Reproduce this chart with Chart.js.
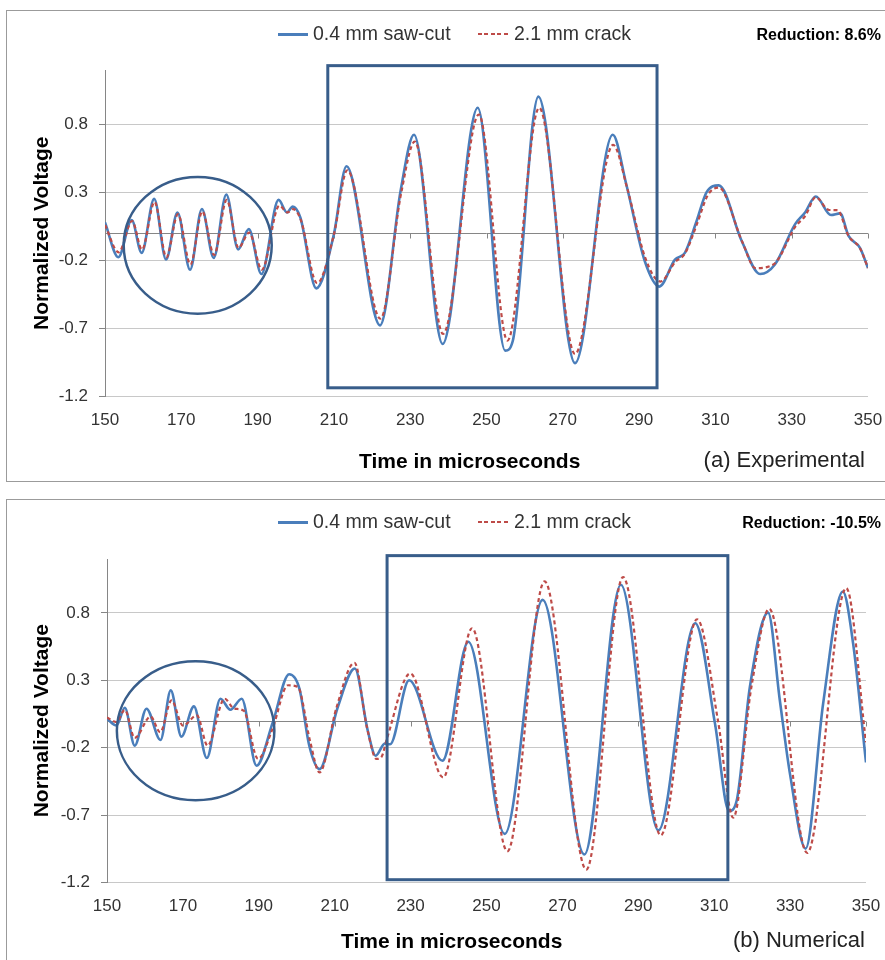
<!DOCTYPE html>
<html><head><meta charset="utf-8">
<script src="https://cdn.jsdelivr.net/npm/chart.js@4.4.1/dist/chart.umd.min.js"></script>
<style>
html,body{margin:0;padding:0;background:#fff;}
body{width:885px;height:960px;position:relative;overflow:hidden;font-family:'Liberation Sans',Arial,sans-serif;color:#262626;}
.panel{position:absolute;border:1px solid #9b9b9b;box-sizing:border-box;}
canvas{position:absolute;left:0;}
.t{position:absolute;white-space:nowrap;line-height:1;}
.sw{position:absolute;height:2.5px;}
.dash{height:2px;background:repeating-linear-gradient(to right,#BE4B48 0 4px,transparent 4px 6.5px);}
</style></head><body>
<div class="panel" style="left:6px;top:10px;width:900px;height:472px"></div>
<div class="panel" style="left:6px;top:499px;width:900px;height:480px"></div>
<canvas id="c1" width="885" height="490" style="top:0"></canvas>
<canvas id="c2" width="885" height="470" style="top:490px"></canvas>
<div id="overlay"></div>
<script>
// ---------- data ----------
const seriesNames = ['0.4 mm saw-cut', '2.1 mm crack'];
const xTickValues = [150, 170, 190, 210, 230, 250, 270, 290, 310, 330, 350];
const yTickValues = [-1.2, -0.7, -0.2, 0.3, 0.8];
const panelNotes = ['(a) Experimental', '(b) Numerical'];
const reductions = ['Reduction: 8.6%', 'Reduction: -10.5%'];
const xTitle = 'Time in microseconds';
const yTitle = 'Normalized Voltage';

// (a) Experimental
const expSawT = [150,153.5,157.0,159.6,162.9,166.0,169.0,172.3,175.4,178.5,181.8,184.9,187.7,191.0,195.5,197.7,199.2,201.2,205.4,210.0,213.3,222.1,227.5,231.0,238.5,247.7,254.9,256.9,263.6,273.2,283.1,286.6,291.5,295.3,299.4,302.0,305.1,307.7,310.9,316.9,321.7,325.6,330.9,333.5,336.3,340.3,342.7,344.9,347.9,350];
const expSawV = [0.08,-0.176,0.097,-0.144,0.253,-0.193,0.153,-0.268,0.178,-0.181,0.285,-0.119,0.030,-0.30,0.245,0.153,0.196,0.116,-0.405,-0.007,0.493,-0.677,0.315,0.724,-0.814,0.922,-0.863,-0.79,1.004,-0.955,0.724,0.364,-0.206,-0.392,-0.194,-0.144,0.092,0.302,0.352,-0.057,-0.30,-0.23,0.067,0.153,0.27,0.134,0.146,-0.02,-0.107,-0.256];
const expCrackT = [150,153.6,157.1,159.7,163.0,166.1,169.1,172.4,175.5,178.6,181.9,185.0,187.8,191.1,195.7,197.8,199.3,201.3,205.6,210.0,213.5,222.2,227.6,231.2,238.6,248.0,255.5,263.8,273.2,283.2,286.8,291.6,295.6,299.5,302.0,305.2,308.0,310.9,317.0,320.5,325.2,331.0,333.6,336.3,339.8,342.0,344.9,347.9,350];
const expCrackV = [0.06,-0.14,0.09,-0.12,0.23,-0.176,0.14,-0.23,0.16,-0.16,0.245,-0.107,0.005,-0.268,0.203,0.153,0.178,0.10,-0.367,-0.01,0.463,-0.628,0.29,0.674,-0.74,0.873,-0.789,0.922,-0.888,0.65,0.34,-0.18,-0.355,-0.21,-0.15,0.07,0.28,0.335,-0.06,-0.256,-0.23,0.05,0.13,0.265,0.171,0.17,-0.02,-0.11,-0.256];

// (b) Numerical
const numSawT = [150,152.5,154.7,157.3,160.4,164.1,166.8,169.6,172.9,176.3,179.9,182.5,185.5,189.4,193.7,198.0,200.7,203.3,206.0,210.8,215.3,218.7,220.8,223.2,224.6,229.6,238.4,245.2,254.8,264.8,275.8,285.4,295.3,305.0,310.2,313.9,315.9,319.4,324.2,327.3,330.0,334.1,338.7,343.9,346.6,350];
const numSawV = [0.014,-0.036,0.096,-0.185,0.089,-0.143,0.225,-0.118,0.106,-0.277,0.163,0.081,0.163,-0.334,-0.011,0.345,0.238,-0.185,-0.359,0.10,0.387,-0.073,-0.26,-0.17,-0.175,0.30,-0.297,0.586,-0.84,0.897,-0.993,1.009,-0.814,0.723,-0.02,-0.67,-0.596,0.25,0.802,0.15,-0.40,-0.949,0.126,0.959,0.574,-0.31];
const numCrackT = [150,152.5,154.7,157.3,161.5,164.0,167.0,170.0,173.7,176.5,181.0,183.5,186.0,189.8,193.5,197.7,200.3,203.5,206.0,210.5,215.2,218.5,221.0,222.3,223.8,229.9,238.6,246.2,255.5,265.3,276.3,286.0,295.9,305.5,311.0,315.0,319.8,324.5,334.5,344.8,350];
const numCrackV = [0.024,-0.01,0.08,-0.128,0.031,-0.086,0.151,-0.036,0.039,-0.185,0.163,0.09,0.075,-0.284,-0.07,0.263,0.25,-0.15,-0.384,0.10,0.43,-0.05,-0.284,-0.27,-0.13,0.35,-0.421,0.686,-0.969,1.034,-1.105,1.066,-0.851,0.753,0.0,-0.72,0.25,0.83,-0.981,0.984,-0.16];

// highlighted regions, in data units: [t1, t2, vLow, vHigh]
const expEllipse = [154.9, 193.7, -0.591, 0.414];
const expBox = [208.4, 294.7, -1.136, 1.232];
const numEllipse = [152.6, 194.1, -0.590, 0.442];
const numBox = [223.8, 313.6, -1.18, 1.225];

// ---------- drawing ----------
const FONT = "'Liberation Sans', Arial, sans-serif";
const BLUE = '#4A7EBB', RED = '#BE4B48', SHAPE = '#385D8A';

const toXY = (ts, vs) => ts.map((t, i) => ({x: t, y: vs[i]}));

const markupPlugin = {
  id: 'markup',
  beforeDatasetsDraw(chart) {
    const {ctx, chartArea, scales: {x, y}} = chart;
    const y0 = Math.round(y.getPixelForValue(0)) + 0.5;
    ctx.save();
    ctx.strokeStyle = '#868686';
    ctx.lineWidth = 1;
    ctx.beginPath();
    ctx.moveTo(chartArea.left, y0);
    ctx.lineTo(chartArea.right, y0);
    xTickValues.forEach(v => {
      const px = Math.round(x.getPixelForValue(v)) + 0.5;
      ctx.moveTo(px, y0);
      ctx.lineTo(px, y0 + 5);
    });
    ctx.stroke();
    ctx.restore();
  },
  afterDatasetsDraw(chart, args, opts) {
    const {ctx, scales: {x, y}} = chart;
    ctx.save();
    ctx.strokeStyle = SHAPE;
    const e = opts.ellipse, b = opts.box;
    const ex1 = x.getPixelForValue(e[0]), ex2 = x.getPixelForValue(e[1]);
    const ey1 = y.getPixelForValue(e[3]), ey2 = y.getPixelForValue(e[2]);
    ctx.lineWidth = 2.5;
    ctx.beginPath();
    ctx.ellipse((ex1 + ex2) / 2, (ey1 + ey2) / 2, (ex2 - ex1) / 2, (ey2 - ey1) / 2, 0, 0, Math.PI * 2);
    ctx.stroke();
    const bx1 = x.getPixelForValue(b[0]), bx2 = x.getPixelForValue(b[1]);
    const by1 = y.getPixelForValue(b[3]), by2 = y.getPixelForValue(b[2]);
    ctx.lineWidth = 3;
    ctx.strokeRect(bx1, by1, bx2 - bx1, by2 - by1);
    ctx.restore();
  }
};

function makeChart(id, sawT, sawV, crackT, crackV, geo, ellipse, box) {
  const canvas = document.getElementById(id);
  return new Chart(canvas, {
    type: 'line',
    data: {
      datasets: [
        {label: seriesNames[1], data: toXY(crackT, crackV), borderColor: RED, borderWidth: 2.2,
         borderDash: [4, 3], order: 0, cubicInterpolationMode: 'monotone', pointRadius: 0, fill: false},
        {label: seriesNames[0], data: toXY(sawT, sawV), borderColor: BLUE, borderWidth: 2.6,
         order: 1, cubicInterpolationMode: 'monotone', pointRadius: 0, fill: false}
      ]
    },
    options: {
      responsive: false, animation: false, devicePixelRatio: 1,
      layout: {padding: {left: 0, right: geo.padRight, top: geo.padTop, bottom: 0}},
      plugins: {legend: {display: false}, tooltip: {enabled: false}, markup: {ellipse, box}},
      elements: {point: {radius: 0}},
      scales: {
        x: {
          type: 'linear', min: 150, max: 350,
          afterBuildTicks: s => { s.ticks = xTickValues.map(v => ({value: v})); },
          afterFit: s => { s.height = geo.xHeight; s.paddingLeft = 0; s.paddingRight = 0; },
          grid: {display: false, drawTicks: false},
          border: {display: false},
          ticks: {padding: 14, autoSkip: false, maxRotation: 0, color: '#333',
                  font: {family: FONT, size: 17}, callback: v => String(v)}
        },
        y: {
          type: 'linear', min: -1.2, max: 1.2,
          afterBuildTicks: s => { s.ticks = yTickValues.map(v => ({value: v})); },
          afterFit: s => { s.width = geo.yWidth; },
          grid: {color: '#C8C8C8', tickLength: 6, tickColor: '#868686'},
          border: {display: true, color: '#868686'},
          ticks: {padding: 11, color: '#333', font: {family: FONT, size: 17}, callback: v => v.toFixed(1)},
          title: {display: true, text: yTitle, color: '#000',
                  font: {family: FONT, size: 21, weight: 'bold'}, padding: {top: 30, bottom: 0}}
        }
      }
    },
    plugins: [markupPlugin]
  });
}

makeChart('c1', expSawT, expSawV, expCrackT, expCrackV,
  {padRight: 17, padTop: 70, xHeight: 93.5, yWidth: 105}, expEllipse, expBox);
makeChart('c2', numSawT, numSawV, numCrackT, numCrackV,
  {padRight: 19, padTop: 69, xHeight: 77.6, yWidth: 107}, numEllipse, numBox);

// ---------- legends and captions (real text) ----------
const overlay = document.getElementById('overlay');
function addText(txt, style) {
  const d = document.createElement('div');
  d.className = 't';
  d.textContent = txt;
  Object.assign(d.style, style);
  overlay.appendChild(d);
}
function addSwatch(cls, style) {
  const d = document.createElement('div');
  d.className = cls;
  Object.assign(d.style, style);
  overlay.appendChild(d);
}
[{legendY: 34, titleY: 460, titleX: 359, idx: 0}, {legendY: 522, titleY: 940, titleX: 341, idx: 1}].forEach(p => {
  addSwatch('sw', {left: '278px', top: (p.legendY - 1) + 'px', width: '30px', background: BLUE});
  addText(seriesNames[0], {left: '313px', top: (p.legendY - 9.6) + 'px', fontSize: '19.5px', color: '#333'});
  addSwatch('sw dash', {left: '478px', top: (p.legendY - 1) + 'px', width: '32px'});
  addText(seriesNames[1], {left: '514px', top: (p.legendY - 9.6) + 'px', fontSize: '19.5px', color: '#333'});
  addText(reductions[p.idx], {right: '4px', top: (p.legendY - 7.5) + 'px', fontSize: '16px', fontWeight: 'bold', color: '#000'});
  addText(xTitle, {left: p.titleX + 'px', top: (p.titleY - 10.3) + 'px', fontSize: '21px', fontWeight: 'bold', color: '#000'});
  addText(panelNotes[p.idx], {right: '20px', top: (p.titleY - 10.8) + 'px', fontSize: '22px', color: '#222'});
});
</script>
</body></html>
